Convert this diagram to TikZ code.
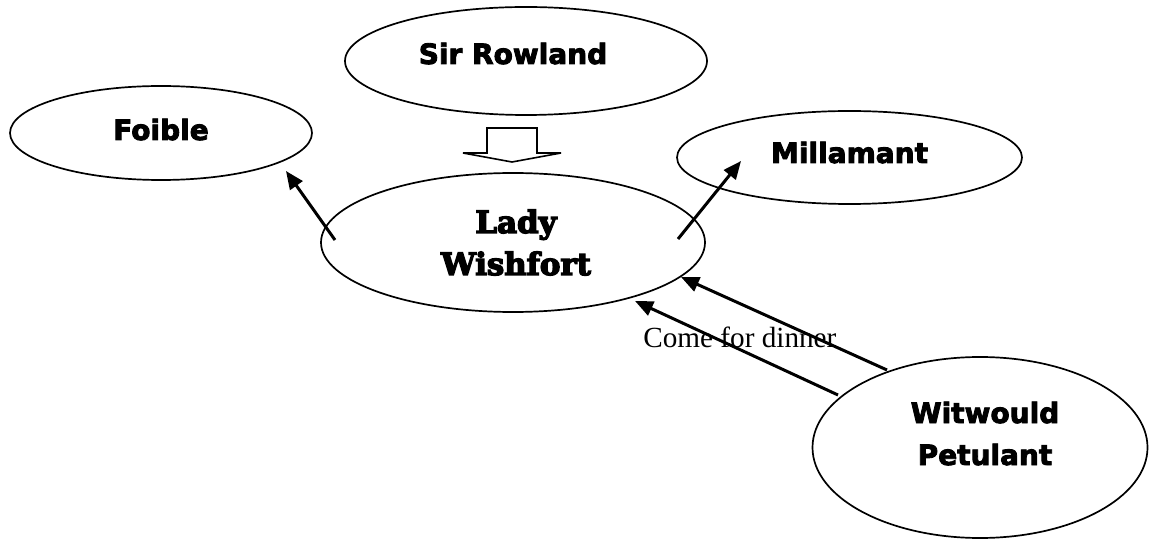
\documentclass[tikz,border=0pt]{standalone}
\usepackage{fontspec}
\setmainfont{Liberation Serif}
\newfontfamily\boxfont{DejaVu Sans Bold}[FakeBold=3]
\newfontfamily\ladyfont{DejaVu Serif Bold}[FakeBold=4.5]
\usetikzlibrary{shapes.geometric,arrows.meta}
\begin{document}
\begin{tikzpicture}[x=0.5pt,y=-0.5pt,
  oval/.style={draw,ellipse,line width=0.85pt,inner sep=0pt},
  sanslab/.style={font=\boxfont\fontsize{14}{21}\selectfont,inner sep=0pt,anchor=base},
  ladylab/.style={font=\ladyfont\fontsize{15.4}{21}\selectfont,inner sep=0pt,anchor=base},
  plainlab/.style={font=\fontsize{14.6}{17}\selectfont,inner sep=0pt,anchor=base west},
  conn/.style={line width=1.5pt,-{Triangle[length=9pt,width=7.5pt]}},
  blockarrow/.style={draw,line width=0.8pt,fill=white,line join=miter}]
\useasboundingbox (0,0) rectangle (1150,539);
\fill[white] (0,0) rectangle (1150,539);
% ellipses
\node[oval,minimum width=181pt,minimum height=54pt] (sir) at (526,61) {};
\node[sanslab] (sirt) at (513,64) {Sir Rowland};
\node[oval,minimum width=151pt,minimum height=47pt] (foi) at (161,133) {};
\node[sanslab] (foit) at (161,140) {Foible};
\node[oval,minimum width=172.5pt,minimum height=46.5pt] (mil) at (849.5,157.5) {};
\node[sanslab] (milt) at (849.5,163) {Millamant};
\node[oval,minimum width=192pt,minimum height=69.5pt] (lady) at (513,242.5) {};
\node[ladylab] (ladyt) at (516,233) {\setlength{\tabcolsep}{0pt}\begin{tabular}[t]{c}Lady\\Wishfort\end{tabular}};
\node[oval,minimum width=167.5pt,minimum height=90.5pt] (wit) at (980,447.5) {};
\node[sanslab] (witt) at (985,423) {\setlength{\tabcolsep}{0pt}\begin{tabular}[t]{c}Witwould\\Petulant\end{tabular}};
\node[plainlab] (cfd) at (643,348) {Come for dinner};
% block arrow from Sir Rowland to Lady Wishfort
\draw[blockarrow] (487,128) -- (537,128) -- (537,153) -- (561,153) -- (512,162) -- (463,153) -- (487,153) -- cycle;
% connector end points
\coordinate (fa1) at (335,240); \coordinate (fa2) at (286,171);
\coordinate (ma1) at (678,239); \coordinate (ma2) at (741,161);
\coordinate (wa1) at (887,370); \coordinate (wa2) at (681,277);
\coordinate (wb1) at (838,395); \coordinate (wb2) at (635,301);
\draw[conn] (fa1) -- (fa2);
\draw[conn] (ma1) -- (ma2);
\draw[conn] (wa1) -- (wa2);
\draw[conn] (wb1) -- (wb2);
\end{tikzpicture}
\end{document}
